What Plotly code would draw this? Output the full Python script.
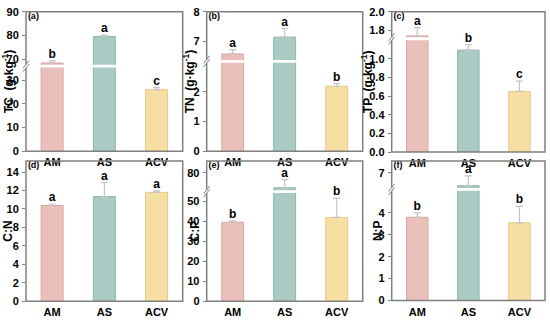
import plotly.graph_objects as go

# ---------------- data ----------------
categories = ["AM", "AS", "ACV"]

tc_values = [68.4, 79.6, 26.0]
tc_errors = [0.9, 0.6, 0.9]
tc_letters = ["b", "a", "c"]

tn_values = [6.57, 7.14, 2.19]
tn_errors = [0.15, 0.29, 0.09]
tn_letters = ["a", "a", "b"]

tp_values = [1.74, 1.093, 0.65]
tp_errors = [0.09, 0.06, 0.11]
tp_letters = ["a", "b", "c"]

cn_values = [10.36, 11.35, 11.8]
cn_errors = [0.15, 1.5, 0.15]
cn_letters = ["a", "a", "a"]

cp_values = [39.4, 72.5, 41.8]
cp_errors = [0.7, 4.1, 9.6]
cp_letters = ["b", "a", "b"]

np_values = [3.8, 6.41, 3.55]
np_errors = [0.2, 0.45, 0.75]
np_letters = ["b", "a", "b"]

# ---------------- style ----------------
W, H = 550, 320
FONT = "Liberation Sans"
FILL = ["#EBC0BB", "#A9CBC4", "#F7DFA3"]
EDGE = ["#D6A6A1", "#8DB3AB", "#E6C985"]
FRAME = "#808080"
ERRC = "#C4C4C4"

def px_x(p):
    return p / W

def px_y(p):
    return 1 - p / H

panels = [
    dict(label="(a)", title="TC  (g·kg<sup>-1</sup>)", vals=tc_values, errs=tc_errors, lets=tc_letters,
         x0=26, x1=182.7, top=6, bot=151, brk=62.5,
         lower=[0, 35.3], upper=[67.7, 90], lticks=[0, 10, 20, 30], uticks=[70, 80, 90], fmt="d", stand=9),
    dict(label="(b)", title="TN  (g·kg<sup>-1</sup>)", vals=tn_values, errs=tn_errors, lets=tn_letters,
         x0=206.7, x1=362.7, top=6, bot=151, brk=57.5,
         lower=[0, 2.98], upper=[6.37, 8], lticks=[0, 1, 2], uticks=[7, 8], fmt="d", stand=8),
    dict(label="(c)", title="TP  (g·kg<sup>-1</sup>)", vals=tp_values, errs=tp_errors, lets=tp_letters,
         x0=391.7, x1=545, top=6, bot=151.7, brk=34,
         lower=[0, 1.20], upper=[1.725, 2.0], lticks=[0, 0.2, 0.4, 0.6, 0.8, 1.0], uticks=[1.8, 2.0], fmt=".1f", stand=15),
    dict(label="(d)", title="C:N", vals=cn_values, errs=cn_errors, lets=cn_letters,
         x0=26, x1=182.7, top=161, bot=306.7, brk=None,
         lower=[0, 15.2], upper=None, lticks=[0, 2, 4, 6, 8, 10, 12, 14], uticks=None, fmt="d", stand=9),
    dict(label="(e)", title="C:P", vals=cp_values, errs=cp_errors, lets=cp_letters,
         x0=206.7, x1=362.7, top=161, bot=306.7, brk=192.8,
         lower=[0, 54.0], upper=[71.35, 85.9], lticks=[0, 10, 20, 30, 40, 50], uticks=[80], fmt="d", stand=3),
    dict(label="(f)", title="N:P", vals=np_values, errs=np_errors, lets=np_letters,
         x0=391.7, x1=545, top=161, bot=306, brk=190.5,
         lower=[0, 5.01], upper=[6.31, 7.54], lticks=[0, 1, 2, 3, 4], uticks=[7], fmt="d", stand=5),
]

fig = go.Figure()
layout = {}
shapes = []
counter = [0]

tickfont = dict(family=FONT, size=11, color="black", weight="bold")
letterfont = dict(family=FONT, size=12, color="black", weight="bold")

def names():
    counter[0] += 1
    n = counter[0]
    xa = "xaxis" if n == 1 else f"xaxis{n}"
    ya = "yaxis" if n == 1 else f"yaxis{n}"
    xref = "x" if n == 1 else f"x{n}"
    yref = "y" if n == 1 else f"y{n}"
    return xa, ya, xref, yref

def new_axes(cfg, ydom, yrange, ticks, show_x):
    xa, ya, xref, yref = names()
    layout[xa] = dict(domain=[px_x(cfg["x0"]), px_x(cfg["x1"])], anchor=yref, range=[-0.5, 2.5],
                      type="category", showgrid=False, zeroline=False, showline=False,
                      ticks="", showticklabels=show_x, tickfont=tickfont, ticklabelstandoff=3,
                      fixedrange=True)
    fmt = cfg["fmt"]
    ticktext = [(f"{t:.1f}" if fmt == ".1f" else f"{int(t)}") for t in ticks]
    layout[ya] = dict(domain=ydom, anchor=xref, range=yrange, showgrid=False, zeroline=False,
                      showline=False, ticks="outside", ticklen=3, tickwidth=1.2, tickcolor=FRAME,
                      tickmode="array", tickvals=ticks, ticktext=ticktext, tickfont=tickfont,
                      ticklabelstandoff=1, ticklabeloverflow="allow", fixedrange=True)
    return xref, yref

def title_axes(cfg):
    # invisible full-panel axes that carry the y title and the panel label
    xa, ya, xref, yref = names()
    layout[xa] = dict(domain=[px_x(cfg["x0"]), px_x(cfg["x1"])], anchor=yref, range=[0, 1],
                      visible=False, fixedrange=True)
    layout[ya] = dict(domain=[px_y(cfg["bot"]), px_y(cfg["top"])], anchor=xref, range=[0, 1],
                      showgrid=False, zeroline=False, showline=False, ticks="", showticklabels=False,
                      title=dict(text=cfg["title"], standoff=cfg["stand"],
                                 font=dict(family=FONT, size=12, color="black", weight="bold")),
                      fixedrange=True)
    return xref, yref

for cfg in panels:
    subplots = []
    if cfg["brk"] is None:
        ydom = [px_y(cfg["bot"]), px_y(cfg["top"])]
        xr, yr = new_axes(cfg, ydom, cfg["lower"], cfg["lticks"], True)
        subplots.append((xr, yr, cfg["lower"]))
    else:
        gap = 1.5
        ydom_l = [px_y(cfg["bot"]), px_y(cfg["brk"] + gap)]
        ydom_u = [px_y(cfg["brk"] - gap), px_y(cfg["top"])]
        xr, yr = new_axes(cfg, ydom_l, cfg["lower"], cfg["lticks"], True)
        subplots.append((xr, yr, cfg["lower"]))
        xr2, yr2 = new_axes(cfg, ydom_u, cfg["upper"], cfg["uticks"], False)
        subplots.append((xr2, yr2, cfg["upper"]))

    for xr, yr, rng in subplots:
        fig.add_trace(go.Bar(
            x=categories, y=cfg["vals"], xaxis=xr, yaxis=yr, width=0.42,
            marker=dict(color=FILL, line=dict(color=EDGE, width=1)),
            error_y=dict(type="data", array=cfg["errs"], arrayminus=[0, 0, 0], symmetric=False,
                         color=ERRC, thickness=1.2, width=3.5),
            showlegend=False, hoverinfo="skip"))

    # significance letters, each on the segment that holds its point
    tops = [v + e for v, e in zip(cfg["vals"], cfg["errs"])]
    for k, (xr, yr, rng) in enumerate(subplots):
        if len(subplots) == 1:
            idx = [0, 1, 2]
        elif k == 0:
            idx = [i for i in range(3) if tops[i] <= cfg["upper"][0]]
        else:
            idx = [i for i in range(3) if tops[i] > cfg["upper"][0]]
        if not idx:
            continue
        fig.add_trace(go.Scatter(
            x=[categories[i] for i in idx], y=[tops[i] for i in idx],
            text=[cfg["lets"][i] for i in idx], mode="text", textposition="top center",
            textfont=letterfont, xaxis=xr, yaxis=yr, cliponaxis=False,
            showlegend=False, hoverinfo="skip"))

    # title axis + panel label
    txr, tyr = title_axes(cfg)
    fig.add_trace(go.Scatter(x=[0.012], y=[0.995], text=[cfg["label"]], mode="text",
                             textposition="bottom right", xaxis=txr, yaxis=tyr, cliponaxis=False,
                             textfont=dict(family=FONT, size=9, color="black", weight="bold"),
                             showlegend=False, hoverinfo="skip"))

    # frame
    shapes.append(dict(type="rect", xref="paper", yref="paper",
                       x0=px_x(cfg["x0"]), x1=px_x(cfg["x1"]), y0=px_y(cfg["bot"]), y1=px_y(cfg["top"]),
                       line=dict(color=FRAME, width=1.5), fillcolor="rgba(0,0,0,0)", layer="above"))
    # break mark on the left spine
    if cfg["brk"] is not None:
        b = cfg["brk"]
        x = cfg["x0"]
        shapes.append(dict(type="line", xref="paper", yref="paper",
                           x0=px_x(x), x1=px_x(x), y0=px_y(b - 2), y1=px_y(b + 2),
                           line=dict(color="white", width=2), layer="above"))
        for dy in (-1.8, 1.8):
            shapes.append(dict(type="line", xref="paper", yref="paper",
                               x0=px_x(x - 3), x1=px_x(x + 3), y0=px_y(b + 4 + dy), y1=px_y(b - 4 + dy),
                               line=dict(color=FRAME, width=1), layer="above"))

fig.update_layout(**layout)
fig.update_layout(width=W, height=H, margin=dict(l=0, r=0, t=0, b=0),
                  paper_bgcolor="white", plot_bgcolor="rgba(0,0,0,0)",
                  shapes=shapes, bargap=0.5,
                  font=dict(family=FONT, size=11, color="black"))

fig.write_html("out.html", config={"displayModeBar": False},
               post_script="document.body.style.margin='0';document.body.style.overflow='hidden';")
